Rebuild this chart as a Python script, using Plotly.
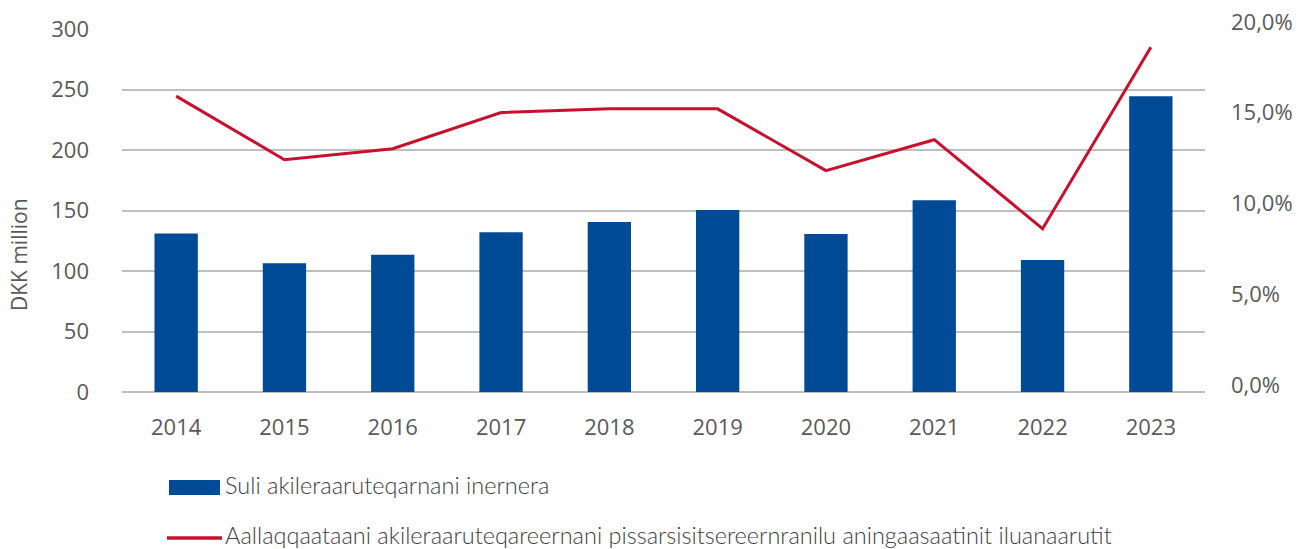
import plotly.graph_objects as go

years = ["2014", "2015", "2016", "2017", "2018", "2019", "2020", "2021", "2022", "2023"]
bar_values = [131, 106.5, 113.5, 132, 140.5, 150.5, 130.5, 158.5, 109, 244.5]
line_values = [0.163, 0.128, 0.134, 0.154, 0.156, 0.156, 0.122, 0.139, 0.090, 0.190]
bar_name = "Suli akileraaruteqarnani inernera"
line_name = "Aallaqqaataani akileraaruteqareernani pissarsisitsereernranilu aningaasaatinit iluanaarutit"
left_ticks = [0, 50, 100, 150, 200, 250, 300]
right_ticks = [0, 0.05, 0.10, 0.15, 0.20]
right_labels = ["0,0%", "5,0%", "10,0%", "15,0%", "20,0%"]

BLUE = "#004a96"
RED = "#c8102e"
GRID = "#bfbfbf"
TXT = "#595959"
FONT = "Open Sans"
LEGFONT = dict(family="Lato", size=23.5, color="#404040", weight=300)

FW, FH = 1309, 549
# plot area in pixels
L, R, T, B = 122, 1205, 29, 392
W, H = R - L, B - T


def px(x):
    return (x - L) / W


def py(y):
    return (B - y) / H


fig = go.Figure()
fig.add_trace(go.Bar(x=years, y=bar_values, name=bar_name, marker=dict(color=BLUE, line=dict(width=0)),
                     width=0.4, yaxis="y", showlegend=False))
fig.add_trace(go.Scatter(x=years, y=line_values, name=line_name, mode="lines",
                         line=dict(color=RED, width=3), yaxis="y2", showlegend=False))

shapes = [
    dict(type="rect", xref="paper", yref="paper", x0=px(169), x1=px(220), y0=py(495), y1=py(480),
         fillcolor=BLUE, line=dict(width=0)),
    dict(type="line", xref="paper", yref="paper", x0=px(167), x1=px(222), y0=py(538), y1=py(538),
         line=dict(color=RED, width=3.5)),
]
annotations = [
    dict(text="DKK million", xref="paper", yref="paper", x=px(19), y=py(255),
         xanchor="center", yanchor="middle", textangle=-90, showarrow=False,
         font=dict(size=21, color=TXT, family=FONT)),
    dict(text=bar_name, xref="paper", yref="paper", x=px(223), y=py(485), xanchor="left", yanchor="middle",
         showarrow=False, font=LEGFONT),
    dict(text=line_name, xref="paper", yref="paper", x=px(223), y=py(535), xanchor="left", yanchor="middle",
         showarrow=False, font=LEGFONT),
]

fig.update_layout(
    width=FW, height=FH,
    margin=dict(l=L, r=FW - R, t=T, b=FH - B, autoexpand=False),
    plot_bgcolor="white", paper_bgcolor="white",
    font=dict(family=FONT, size=22, color=TXT),
    showlegend=False,
    xaxis=dict(showgrid=False, showline=False, ticks="", tickfont=dict(size=22, color=TXT),
               ticklabelstandoff=20, automargin=False),
    yaxis=dict(range=[0, 300], tickvals=left_ticks, showgrid=True, gridcolor=GRID, gridwidth=1.5,
               zeroline=True, zerolinecolor=GRID, zerolinewidth=1.5, showline=False, ticks="",
               ticklabelstandoff=32, tickfont=dict(size=22, color=TXT), automargin=False),
    yaxis2=dict(range=[0, 0.20], tickvals=right_ticks, ticktext=right_labels, overlaying="y", side="right",
                showgrid=False, zeroline=False, showline=False, ticks="", ticklabelstandoff=25,
                ticklabelshift=-7, ticklabeloverflow="allow",
                tickfont=dict(size=22, color=TXT), automargin=False),
    shapes=shapes,
    annotations=annotations,
)

fig.write_html("out.html", config={"displayModeBar": False},
               post_script="document.body.style.margin='0';document.body.style.overflow='hidden';")
